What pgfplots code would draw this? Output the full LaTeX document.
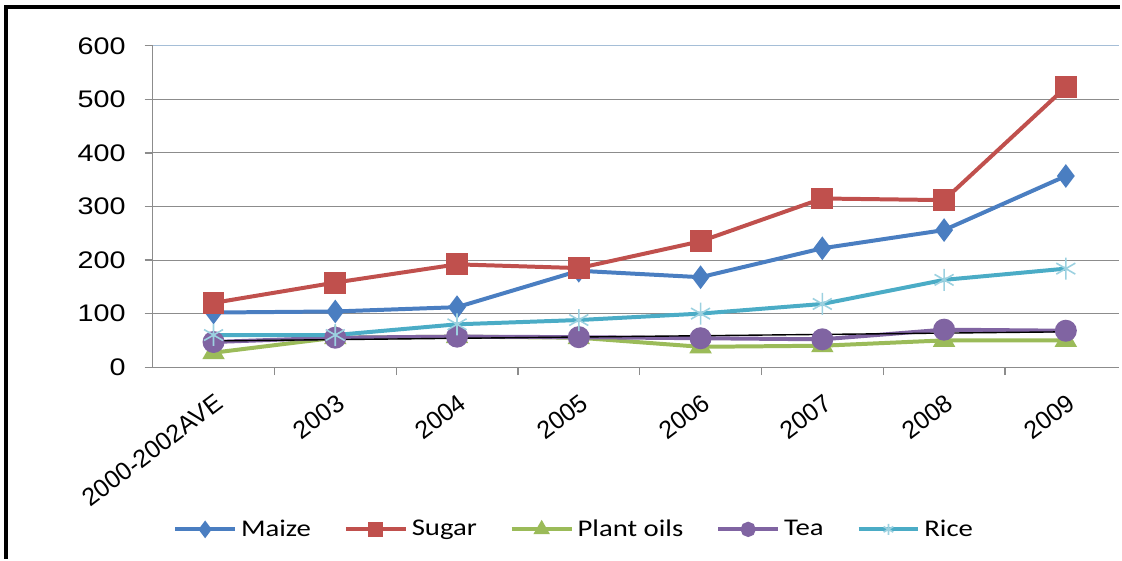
\documentclass[border=0pt]{standalone}
\usepackage{fontspec}
\setmainfont[FakeStretch=1.2]{Liberation Sans}
\newfontfamily\xtfont{Liberation Sans}
\newfontfamily\legfont[FakeStretch=1.2]{Carlito}
\usepackage{pgfplots}
\pgfplotsset{compat=1.18}
\definecolor{cMaize}{RGB}{74,126,193}
\definecolor{cSugar}{RGB}{192,80,77}
\definecolor{cOil}{RGB}{155,187,89}
\definecolor{cTea}{RGB}{128,100,162}
\definecolor{cRice}{RGB}{75,172,198}
\definecolor{cGrid}{RGB}{140,140,140}
\definecolor{cTop}{RGB}{165,190,215}
\begin{document}
\begin{tikzpicture}[x=1pt,y=1pt]
\path (-76.5,-95) rectangle (484.5,184);
\draw[line width=1.6pt] (-73.5,-96) -- (-73.5,180.5) -- (485,180.5);
\begin{axis}[
  scale only axis,
  width=484.5pt, height=161pt,
  xmin=-0.5, xmax=7.44,
  ymin=0, ymax=600,
  ytick={0,100,...,500},
  extra y ticks={600},
  extra y tick style={grid style={cTop, line width=0.6pt}},
  xtick={0,...,7},
  xticklabels={2000-2002AVE,2003,2004,2005,2006,2007,2008,2009},
  minor xtick={0.5,1.5,...,6.5},
  axis x line*=bottom, axis y line*=left,
  axis line style={cGrid, line width=0.6pt},
  ymajorgrids, grid style={cGrid, line width=0.5pt},
  major tick length=4pt, minor tick length=4pt,
  xtick style={draw=none},
  minor x tick style={draw=cGrid, line width=0.6pt},
  ytick style={cGrid, line width=0.6pt},
  tick align=outside,
  every tick label/.append style={font=\fontsize{12}{14}\selectfont},
  /pgf/number format/assume math mode=true,
  xticklabel style={font=\xtfont\fontsize{12.5}{14}\selectfont, rotate=37, anchor=north east, inner sep=1pt, yshift=-6pt, xshift=-4pt},
  yticklabel style={xshift=-6pt},
  legend style={at={(0.437,-0.505)}, anchor=center, draw=none, fill=none,
    legend columns=-1, font=\legfont\fontsize{12}{14}\selectfont,
    /tikz/every even column/.append style={column sep=14.5pt}},
  legend image code/.code={\draw[#1] (0pt,0pt) -- (30pt,0pt); \draw[#1, mark size=2.8pt, mark repeat=1] plot coordinates {(15pt,0pt)};},
]
\addplot[cMaize, line width=2pt, mark=diamond*, mark size=4.3pt, mark options={solid}] coordinates {(0,102) (1,104) (2,112) (3,180) (4,168) (5,222) (6,256) (7,357)};
\addlegendentry{Maize}
\addplot[cSugar, line width=2pt, mark=square*, mark size=4.5pt] coordinates {(0,120) (1,158) (2,192) (3,185) (4,235) (5,315) (6,312) (7,523)};
\addlegendentry{Sugar}
\addplot[cOil, line width=2pt, mark=triangle*, mark size=4.5pt] coordinates {(0,27) (1,55) (2,57) (3,55) (4,38) (5,40) (6,50) (7,50)};
\addlegendentry{Plant oils}
\addplot[cTea, line width=2pt, mark=*, mark size=4.5pt] coordinates {(0,47) (1,55) (2,57) (3,56) (4,54) (5,52) (6,70) (7,68)};
\addlegendentry{Tea}
\addplot[cRice, line width=2pt, mark=asterisk, mark size=5.5pt, mark options={line width=0.8pt, cRice!55}] coordinates {(0,60) (1,60) (2,80) (3,88) (4,100) (5,118) (6,163) (7,184)};
\addlegendentry{Rice}
\addplot[black, line width=0.7pt, forget plot] coordinates {(0,49) (7,66)};
\end{axis}
\end{tikzpicture}
\end{document}
